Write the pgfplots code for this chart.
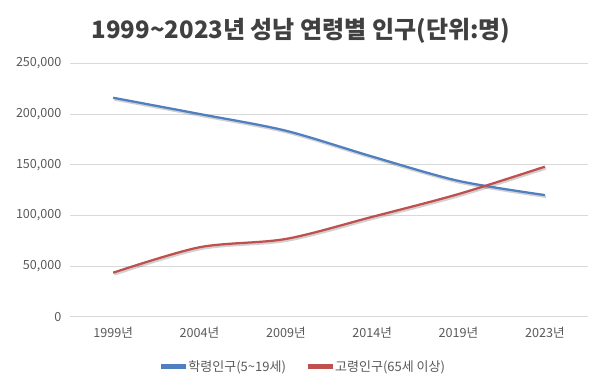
\documentclass[border=0pt]{standalone}
\usepackage{pgfplots}
\pgfplotsset{compat=1.18}
\usepackage{fontspec}
\setmainfont{Noto Sans CJK KR}
\definecolor{cblue}{HTML}{4F7FC1}
\definecolor{cred}{HTML}{C0504D}
\definecolor{ctick}{HTML}{595959}
\definecolor{cgrid}{HTML}{D9D9D9}
\definecolor{ctitle}{HTML}{404040}
\begin{document}
\begin{tikzpicture}[x=1pt,y=1pt]
\path[use as bounding box] (0,0) rectangle (600,385);
\node[font=\fontsize{24}{28}\selectfont\bfseries, text=ctitle] at (301,354) {1999\textasciitilde2023년 성남 연령별 인구(단위:명)};
\begin{axis}[
  at={(70pt,68.3pt)}, anchor=south west,
  scale only axis, width=518pt, height=253.4pt,
  xmin=-0.5, xmax=5.5, ymin=0, ymax=250000,
  xtick={0,1,2,3,4,5},
  xticklabels={1999년,2004년,2009년,2014년,2019년,2023년},
  ytick={0,50000,100000,150000,200000,250000},
  yticklabels={0,{50,000},{100,000},{150,000},{200,000},{250,000}},
  scaled y ticks=false,
  ymajorgrids, grid style={cgrid, line width=0.75pt},
  axis line style={draw=none},
  major tick length=0pt,
  tick label style={font=\fontsize{12.6}{14}\selectfont, text=ctick},
  yticklabel style={xshift=-5pt},
  xticklabel style={yshift=-7pt},
  legend columns=2,
  legend style={draw=none, fill=none, at={(axis description cs:0.452,-0.198)}, anchor=center, font=\fontsize{13}{15}\selectfont, text=ctick, /tikz/every even column/.append style={column sep=20pt}},
  legend image code/.code={\fill[#1] (0pt,-1.3pt) rectangle (23pt,1.3pt);},
]
\addplot[black, opacity=0.18, line width=2.6pt, smooth, forget plot, xshift=1.2pt, yshift=-1.6pt] coordinates {(0,216000) (1,200000) (2,183500) (3,158000) (4,134000) (5,120000)};
\addplot[black, opacity=0.18, line width=2.6pt, smooth, forget plot, xshift=1.2pt, yshift=-1.6pt] coordinates {(0,43400) (1,68500) (2,76700) (3,98500) (4,121000) (5,148000)};
\addplot[cblue, line width=2.25pt, smooth] coordinates {(0,216000) (1,200000) (2,183500) (3,158000) (4,134000) (5,120000)};
\addlegendentry{학령인구(5\textasciitilde19세)}
\addplot[cred, line width=2.25pt, smooth] coordinates {(0,43400) (1,68500) (2,76700) (3,98500) (4,121000) (5,148000)};
\addlegendentry{고령인구(65세 이상)}
\end{axis}
\end{tikzpicture}
\end{document}
